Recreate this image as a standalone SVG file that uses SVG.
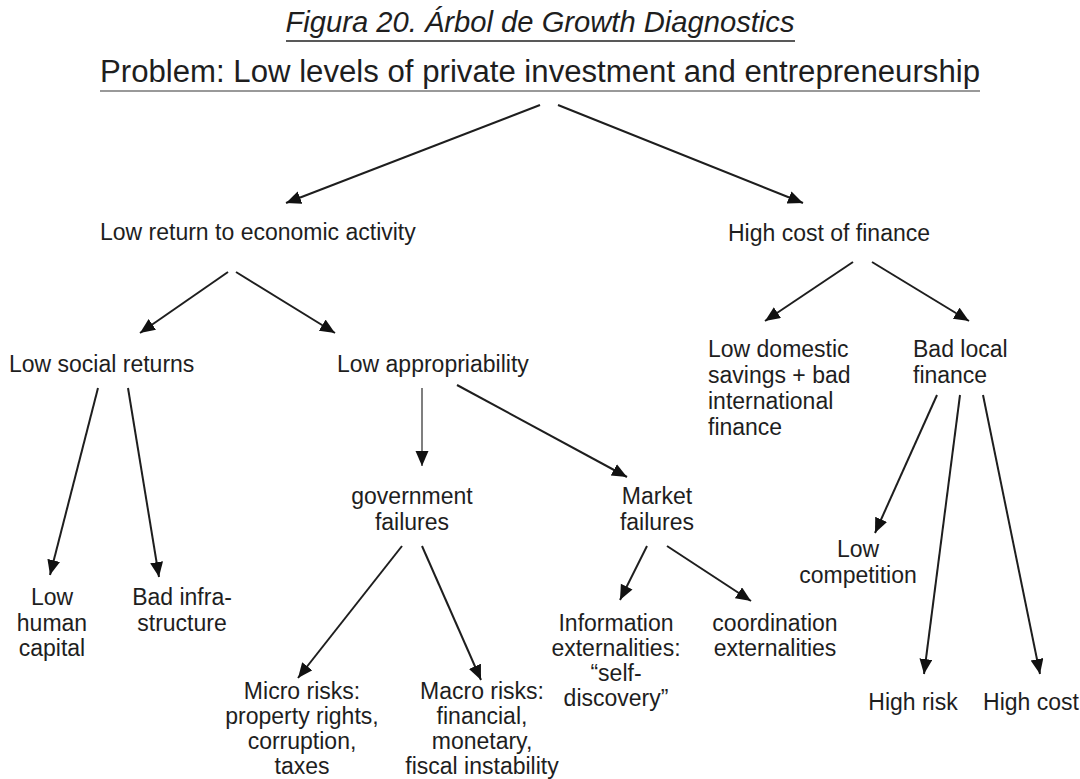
<svg xmlns="http://www.w3.org/2000/svg" width="1080" height="779" viewBox="0 0 1080 779">
<style>
text{font-family:"Liberation Sans",Arial,sans-serif;font-size:23px;fill:#1e1e1e}
.c{text-anchor:middle}
.title{font-size:29px;font-style:italic;text-anchor:middle}
.prob{font-size:31px;text-anchor:middle}
.ln{stroke:#1e1e1e;stroke-width:2;fill:none;marker-end:url(#ah)}
</style>
<defs>
<marker id="ah" markerUnits="userSpaceOnUse" markerWidth="16" markerHeight="14" refX="15" refY="6.5" orient="auto">
<path d="M0,0 L15,6.5 L0,13 z" fill="#111"/>
</marker>
</defs>
<rect width="1080" height="779" fill="#fff"/>
<g id="title">
<text class="title" x="540" y="32" textLength="509" lengthAdjust="spacingAndGlyphs">Figura 20. Árbol de Growth Diagnostics</text>
<line x1="286" y1="41" x2="795" y2="41" stroke="#222" stroke-width="1.5"/>
</g>
<g id="problem">
<text class="prob" x="540" y="82" textLength="880" lengthAdjust="spacingAndGlyphs">Problem: Low levels of private investment and entrepreneurship</text>
<line x1="100" y1="91" x2="980" y2="91" stroke="#777" stroke-width="1.5"/>
</g>
<g id="connectors">
<line class="ln" x1="540" y1="105" x2="286" y2="203"/>
<line class="ln" x1="558" y1="105" x2="803" y2="203"/>
<line class="ln" x1="228" y1="272" x2="140" y2="333"/>
<line class="ln" x1="236" y1="272" x2="335" y2="333"/>
<line class="ln" x1="853" y1="262" x2="765" y2="321"/>
<line class="ln" x1="872" y1="262" x2="969" y2="321"/>
<line class="ln" x1="98" y1="388" x2="50" y2="575"/>
<line class="ln" x1="128" y1="388" x2="159" y2="577"/>
<line class="ln" x1="422" y1="388" x2="422" y2="466" style="stroke:#555;stroke-width:1.5"/>
<line class="ln" x1="457" y1="385" x2="627" y2="477"/>
<line class="ln" x1="402" y1="546" x2="298" y2="678"/>
<line class="ln" x1="422" y1="546" x2="481" y2="680"/>
<line class="ln" x1="647" y1="546" x2="620" y2="600"/>
<line class="ln" x1="667" y1="546" x2="751" y2="601"/>
<line class="ln" x1="937" y1="395" x2="875" y2="533"/>
<line class="ln" x1="960" y1="395" x2="924" y2="674"/>
<line class="ln" x1="983" y1="395" x2="1040" y2="674"/>
</g>
<g id="low-return"><text x="100" y="240">Low return to economic activity</text></g>
<g id="high-cost"><text x="728" y="241">High cost of finance</text></g>
<g id="low-social"><text x="9" y="372">Low social returns</text></g>
<g id="low-approp"><text x="337" y="372">Low appropriability</text></g>
<g id="low-domestic"><text x="708" y="357">Low domestic</text><text x="708" y="383">savings + bad</text><text x="708" y="409">international</text><text x="708" y="435">finance</text></g>
<g id="bad-local"><text x="913" y="357">Bad local</text><text x="913" y="383">finance</text></g>
<g id="gov-failures"><text class="c" x="412" y="504">government</text><text class="c" x="412" y="530">failures</text></g>
<g id="market-failures"><text class="c" x="657" y="504">Market</text><text class="c" x="657" y="530">failures</text></g>
<g id="low-competition"><text class="c" x="858" y="557">Low</text><text class="c" x="858" y="583">competition</text></g>
<g id="low-human"><text class="c" x="52" y="605">Low</text><text class="c" x="52" y="631">human</text><text class="c" x="52" y="656">capital</text></g>
<g id="bad-infra"><text class="c" x="182" y="605">Bad infra-</text><text class="c" x="182" y="631">structure</text></g>
<g id="info-ext"><text class="c" x="616" y="631">Information</text><text class="c" x="616" y="656">externalities:</text><text class="c" x="616" y="681">“self-</text><text class="c" x="616" y="706">discovery”</text></g>
<g id="coord-ext"><text class="c" x="775" y="631">coordination</text><text class="c" x="775" y="656">externalities</text></g>
<g id="micro"><text class="c" x="302" y="699">Micro risks:</text><text class="c" x="302" y="724">property rights,</text><text class="c" x="302" y="749">corruption,</text><text class="c" x="302" y="774">taxes</text></g>
<g id="macro"><text class="c" x="482" y="699">Macro risks:</text><text class="c" x="482" y="724">financial,</text><text class="c" x="482" y="749">monetary,</text><text class="c" x="482" y="774">fiscal instability</text></g>
<g id="high-risk"><text class="c" x="913" y="710">High risk</text></g>
<g id="high-cost2"><text class="c" x="1031" y="710">High cost</text></g>
</svg>
